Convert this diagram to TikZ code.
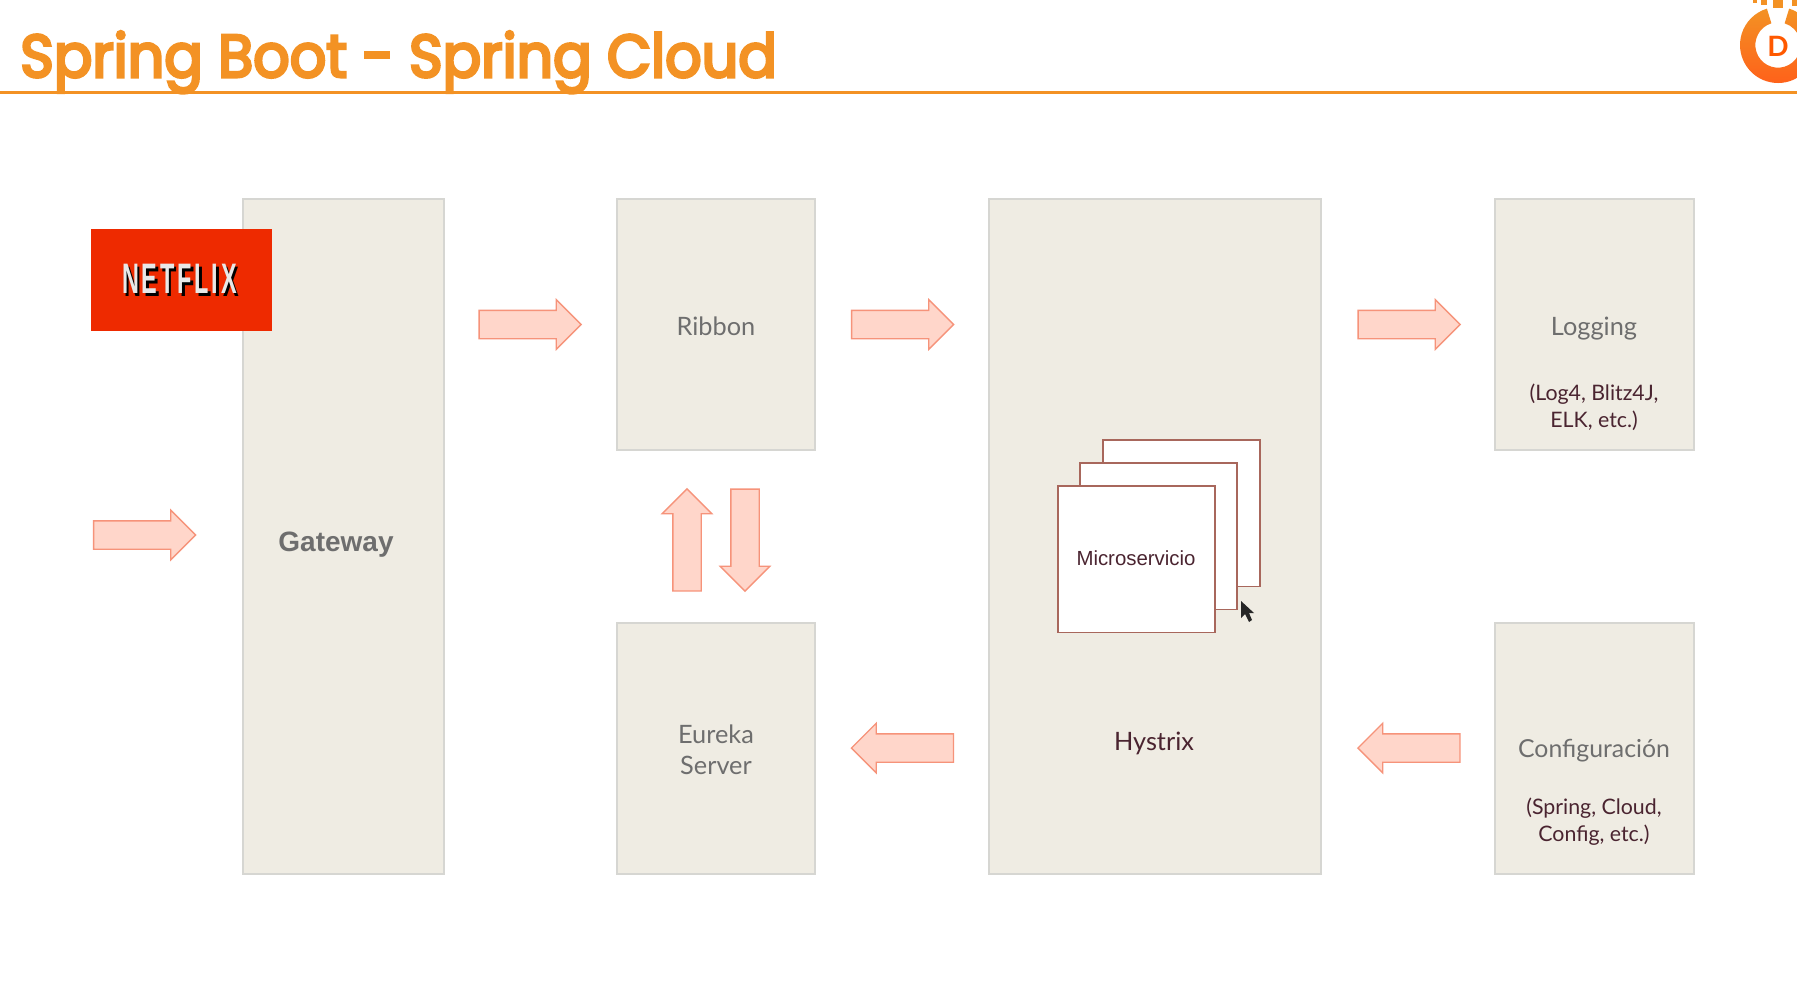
\documentclass[tikz,border=0pt]{standalone}
\usepackage{fontspec}
\usetikzlibrary{shapes.arrows}
\setmainfont{Lato}
\newfontfamily\titlefont[FakeBold=5]{Poppins}
\newfontfamily\helv{Liberation Sans}
\newfontfamily\nfx[LetterSpace=12]{Liberation Sans}
\definecolor{panelfill}{HTML}{EFECE3}
\definecolor{paneledge}{HTML}{D6D6D2}
\definecolor{arrowfill}{HTML}{FFD6CA}
\definecolor{arrowedge}{HTML}{F6937A}
\definecolor{orangeT}{HTML}{F39224}
\definecolor{netred}{HTML}{EE2A00}
\definecolor{maroon}{HTML}{4A2430}
\definecolor{softgray}{HTML}{6E6E6E}
\definecolor{stackedge}{HTML}{A8675C}
\tikzset{
  panel/.style n args={2}{draw=paneledge,fill=panelfill,line width=1.5pt,inner sep=0pt,anchor=north west,minimum width=#1*.75pt,minimum height=#2*.75pt},
  stackbox/.style={draw=stackedge,fill=white,line width=1.2pt,inner sep=0pt,anchor=north west,minimum width=118pt,minimum height=110pt},
  blockarrow/.style={single arrow,draw=arrowedge,fill=arrowfill,line width=1pt,inner sep=0pt,text width=0pt,text height=20.25pt,text depth=0pt,minimum height=76.5pt,single arrow head extend=8pt,anchor=center,rotate=#1},
  big/.style={anchor=base,inner sep=0pt,font=\fontsize{19}{19}\selectfont,text=softgray},
  small/.style={anchor=base,inner sep=0pt,font=\fontsize{16}{16}\selectfont,text=maroon}
}
\begin{document}
\begin{tikzpicture}[x=.75pt,y=-.75pt]
\useasboundingbox (0,0) rectangle (1797,982);
\fill[white] (0,0) rectangle (1797,982);
% title
\node[anchor=base west,inner sep=0pt,text=orangeT] (title) at (20,77) {\scalebox{.952}[1]{\titlefont\fontsize{45}{45}\selectfont Spring Boot - Spring Cloud}};
\coordinate (ruleL) at (0,92.5);
\coordinate (ruleR) at (1797,92.5);
\draw[orangeT,line width=2.6pt] (ruleL) -- (ruleR);
% logo
\begin{scope}
\clip (1600,0) rectangle (1797,90);
\begin{scope}[shift={(1778,45)}]
\shade[top color=orangeT,bottom color=orange!60!red!90!white] (73:28.5pt) arc[start angle=73,end angle=-253,radius=28.5pt] -- (-253:17pt) arc[start angle=-253,end angle=73,radius=17pt] -- cycle;
\end{scope}
\fill[orangeT] (1773,0) rectangle (1783,8);
\fill[orangeT] (1761,0) rectangle (1767,5);
\fill[orangeT] (1753,0) rectangle (1757,3);
\fill[orangeT] (1792,0) rectangle (1797,6);
\node[inner sep=0pt,text=orange!70!red,font=\fontsize{21}{21}\selectfont\bfseries] (logoD) at (1778,46) {D};
\end{scope}
% panels
\node[panel={201}{675}] (gateway) at (241.7,197.7) {};
\node[panel={198.5}{251.5}] (ribbon) at (615.8,197.7) {};
\node[panel={198.5}{251}] (eureka) at (615.8,621.7) {};
\node[panel={332.5}{675}] (hystrix) at (987.8,197.7) {};
\node[panel={199.5}{251.5}] (logging) at (1493.8,197.7) {};
\node[panel={199.5}{251}] (config) at (1493.8,621.7) {};
% netflix
\node[fill=netred,inner sep=0pt,anchor=north west,minimum width=136pt,minimum height=76.5pt] (netflix) at (90.7,229) {};
\node[anchor=base,inner sep=0pt,text=black] (netshadow) at (182,296.5) {\scalebox{.55}[1]{\nfx\fontsize{32}{32}\selectfont\bfseries NETFLIX}};
\node[anchor=base,inner sep=0pt,text=white!82!gray] (netword) at (179.5,293.5) {\scalebox{.55}[1]{\nfx\fontsize{32}{32}\selectfont\bfseries NETFLIX}};
% panel labels
\node[anchor=base,inner sep=0pt,text=softgray,font=\helv\bfseries\fontsize{21}{21}\selectfont] (gatewayT) at (336,551) {Gateway};
\node[big] (ribbonT) at (716,335) {Ribbon};
\node[big] (eurekaT1) at (716,743) {Eureka};
\node[big] (eurekaT2) at (716,774) {Server};
\node[big] (loggingT) at (1594,335) {Logging};
\node[small] (logT1) at (1594,400) {(Log4, Blitz4J,};
\node[small] (logT2) at (1594,427) {ELK, etc.)};
\node[big,text=maroon] (hystrixT) at (1154,750) {Hystrix};
\node[big,font=\fontsize{18.6}{18.6}\selectfont] (configT) at (1594,757) {Configuración};
\node[small] (confT1) at (1594,814) {(Spring, Cloud,};
\node[small] (confT2) at (1594,841) {Config, etc.)};
% stacked boxes
\node[stackbox] (back) at (1102,439) {};
\node[stackbox] (mid) at (1079,462) {};
\node[stackbox] (front) at (1057,485) {};
\node[anchor=base,inner sep=0pt,text=maroon,font=\helv\fontsize{15.3}{15.3}\selectfont] (microT) at (1136,565) {Microservicio};
% cursor
\fill[black!85] (1241,601) -- (1241,618) -- (1245,614) -- (1249,622) -- (1252,620) -- (1249,613) -- (1254,613) -- cycle;
% block arrows
\node[blockarrow=0] (a1) at (137.5,535) {};
\node[blockarrow=0] (a2) at (523,324.5) {};
\node[blockarrow=0] (a3) at (895.5,324.5) {};
\node[blockarrow=0] (a4) at (1402,324.5) {};
\node[blockarrow=180] (a5) at (909.5,748) {};
\node[blockarrow=180] (a6) at (1416,748) {};
\node[blockarrow=90] (a7) at (687,547) {};
\node[blockarrow=-90] (a8) at (745,533) {};
\end{tikzpicture}
\end{document}
